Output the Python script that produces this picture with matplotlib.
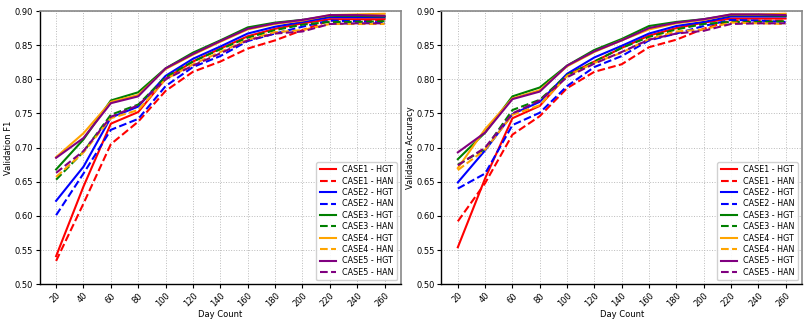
import numpy as np
import matplotlib
matplotlib.use("Agg")
import matplotlib.pyplot as plt

# ============================================================
# Donnees
# ============================================================
days = [20, 40, 60, 80, 100, 120, 140, 160, 180, 200, 220, 240, 260]

# Validation F1
f1_case1_hgt = [0.541, 0.643, 0.735, 0.752, 0.801, 0.826, 0.845, 0.863, 0.874, 0.882, 0.888, 0.888, 0.888]
f1_case1_han = [0.534, 0.618, 0.705, 0.738, 0.783, 0.811, 0.826, 0.845, 0.857, 0.872, 0.886, 0.886, 0.887]
f1_case2_hgt = [0.622, 0.672, 0.744, 0.760, 0.805, 0.830, 0.848, 0.867, 0.877, 0.884, 0.891, 0.891, 0.891]
f1_case2_han = [0.601, 0.662, 0.726, 0.742, 0.790, 0.818, 0.834, 0.856, 0.867, 0.877, 0.886, 0.885, 0.883]
f1_case3_hgt = [0.668, 0.712, 0.769, 0.781, 0.816, 0.839, 0.857, 0.876, 0.883, 0.887, 0.893, 0.893, 0.892]
f1_case3_han = [0.653, 0.694, 0.748, 0.763, 0.803, 0.826, 0.844, 0.861, 0.872, 0.880, 0.884, 0.884, 0.885]
f1_case4_hgt = [0.686, 0.721, 0.767, 0.777, 0.815, 0.836, 0.855, 0.873, 0.881, 0.886, 0.894, 0.895, 0.896]
f1_case4_han = [0.657, 0.693, 0.743, 0.755, 0.800, 0.822, 0.840, 0.858, 0.869, 0.872, 0.881, 0.881, 0.881]
f1_case5_hgt = [0.685, 0.714, 0.765, 0.775, 0.816, 0.837, 0.856, 0.874, 0.882, 0.887, 0.894, 0.894, 0.893]
f1_case5_han = [0.663, 0.695, 0.745, 0.762, 0.800, 0.820, 0.838, 0.857, 0.867, 0.870, 0.881, 0.882, 0.882]

# Validation Accuracy
acc_case1_hgt = [0.554, 0.655, 0.743, 0.761, 0.806, 0.826, 0.846, 0.864, 0.875, 0.883, 0.889, 0.889, 0.889]
acc_case1_han = [0.592, 0.648, 0.719, 0.746, 0.787, 0.811, 0.822, 0.847, 0.858, 0.874, 0.886, 0.886, 0.886]
acc_case2_hgt = [0.649, 0.696, 0.749, 0.767, 0.808, 0.832, 0.849, 0.867, 0.878, 0.884, 0.892, 0.892, 0.892]
acc_case2_han = [0.640, 0.662, 0.733, 0.751, 0.790, 0.818, 0.834, 0.857, 0.867, 0.878, 0.887, 0.886, 0.884]
acc_case3_hgt = [0.683, 0.722, 0.775, 0.788, 0.820, 0.843, 0.859, 0.878, 0.884, 0.888, 0.894, 0.894, 0.893]
acc_case3_han = [0.675, 0.698, 0.755, 0.770, 0.806, 0.826, 0.846, 0.862, 0.873, 0.881, 0.884, 0.884, 0.885]
acc_case4_hgt = [0.670, 0.727, 0.772, 0.784, 0.819, 0.840, 0.857, 0.873, 0.882, 0.887, 0.895, 0.895, 0.896]
acc_case4_han = [0.667, 0.697, 0.748, 0.762, 0.805, 0.824, 0.839, 0.859, 0.870, 0.873, 0.883, 0.882, 0.881]
acc_case5_hgt = [0.693, 0.722, 0.771, 0.782, 0.820, 0.841, 0.857, 0.875, 0.883, 0.888, 0.895, 0.895, 0.894]
acc_case5_han = [0.674, 0.700, 0.750, 0.769, 0.803, 0.823, 0.840, 0.858, 0.867, 0.871, 0.881, 0.882, 0.882]

case_labels = ["CASE1", "CASE2", "CASE3", "CASE4", "CASE5"]
case_colors = ["red", "blue", "green", "orange", "purple"]

f1_series = [(f1_case1_hgt, f1_case1_han), (f1_case2_hgt, f1_case2_han),
             (f1_case3_hgt, f1_case3_han), (f1_case4_hgt, f1_case4_han),
             (f1_case5_hgt, f1_case5_han)]
acc_series = [(acc_case1_hgt, acc_case1_han), (acc_case2_hgt, acc_case2_han),
              (acc_case3_hgt, acc_case3_han), (acc_case4_hgt, acc_case4_han),
              (acc_case5_hgt, acc_case5_han)]

# ============================================================
# Figure
# ============================================================
fig = plt.figure(figsize=(8.1, 3.24), dpi=100)
ax1 = fig.add_axes([0.049, 0.123, 0.446, 0.843])
ax2 = fig.add_axes([0.545, 0.123, 0.445, 0.843])


def draw_panel(ax, series, ylabel):
    for (hgt, han), name, col in zip(series, case_labels, case_colors):
        ax.plot(days, hgt, color=col, lw=1.5, linestyle='-', label=f"{name} - HGT")
        ax.plot(days, han, color=col, lw=1.5, linestyle='--', label=f"{name} - HAN")
    ax.set_ylim(0.5, 0.9)
    ax.set_xticks(days)
    ax.set_xticklabels([str(d) for d in days], rotation=45, ha='right',
                       rotation_mode='anchor', fontsize=6.0)
    ax.tick_params(axis='y', labelsize=6.0, pad=2)
    ax.tick_params(axis='x', pad=2)
    ax.tick_params(length=3, width=0.8)
    ax.set_xlabel("Day Count", fontsize=6.0, labelpad=1)
    ax.set_ylabel(ylabel, fontsize=6.0, labelpad=1)
    ax.grid(True, linestyle=':', color='#bbbbbb', lw=0.7)
    for side in ['top', 'right']:
        ax.spines[side].set_color('#888888')
        ax.spines[side].set_linewidth(1.2)
    for side in ['left', 'bottom']:
        ax.spines[side].set_color('black')
        ax.spines[side].set_linewidth(1.0)
    ax.legend(loc='lower right', fontsize=5.8, handlelength=2.0,
              labelspacing=0.3, borderpad=0.4, framealpha=0.9)


draw_panel(ax1, f1_series, "Validation F1")
draw_panel(ax2, acc_series, "Validation Accuracy")

plt.savefig("out.png", dpi=100)
